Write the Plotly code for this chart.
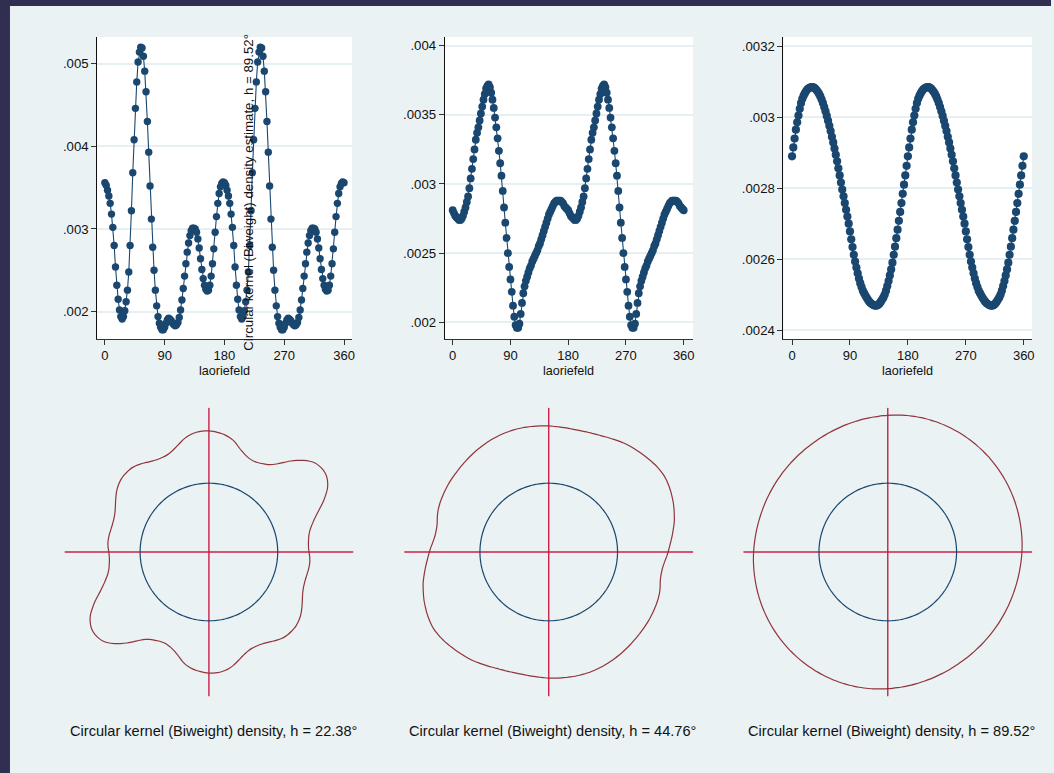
import numpy as np
import plotly.graph_objects as go

W, H = 1054, 773

# ---------------- data (density in units of 1e-5) ----------------
angles = list(range(0, 362, 2))  # evaluation angles, degrees (laoriefeld)

dens_h22_half = [
    356, 353, 347, 340, 331, 318, 302, 280, 254, 232,
    215, 202, 194, 191, 194, 201, 212, 226, 248, 280,
    322, 368, 408, 446, 478, 502, 514, 520, 519, 509,
    491, 466, 430, 393, 352, 312, 278, 250, 226, 207,
    194, 186, 181, 178, 178, 181, 186, 190, 192, 191,
    189, 186, 184, 183, 184, 187, 193, 202, 214, 228,
    243, 258, 272, 283, 292, 298, 301, 301, 300, 296,
    288, 277, 264, 251, 240, 232, 227, 225, 226, 232,
    243, 258, 276, 296, 315, 331, 343, 351, 355, 357]
dens_h22_second = [
    356, 353, 347, 340, 331, 318, 302, 280, 254, 232,
    215, 202, 194, 191, 194, 201, 212, 226, 248, 280,
    322, 368, 408, 446, 478, 502, 514, 520, 519, 509,
    491, 466, 430, 393, 352, 312, 278, 250, 226, 207,
    194, 186, 181, 178, 178, 181, 186, 190, 192, 191,
    189, 186, 184, 183, 184, 187, 193, 202, 214, 228,
    243, 258, 272, 283, 292, 298, 301, 301, 300, 296,
    288, 277, 264, 251, 240, 232, 227, 225, 226, 232,
    243, 258, 276, 296, 315, 331, 343, 351, 355, 357, 356]

dens_h45_half = [
    281, 279, 277, 276, 275, 274, 274, 275, 277, 280,
    283, 287, 291, 297, 304, 311, 318, 325, 332, 337,
    341, 346, 351, 356, 361, 365, 369, 371, 372, 370,
    366, 361, 355, 348, 341, 333, 324, 315, 306, 295,
    283, 272, 261, 250, 240, 231, 222, 212, 204, 198,
    196, 196, 199, 206, 214, 221, 226, 230, 233, 236,
    239, 241, 244, 246, 248, 250, 252, 255, 257, 260,
    263, 266, 269, 272, 275, 278, 280, 282, 284, 286,
    287, 288, 288, 288, 288, 287, 286, 284, 283, 282]
dens_h45_second = [
    281, 279, 277, 276, 275, 274, 274, 275, 277, 280,
    283, 287, 291, 297, 304, 311, 318, 325, 332, 337,
    341, 346, 351, 356, 361, 365, 369, 371, 372, 370,
    366, 361, 355, 348, 341, 333, 324, 315, 306, 295,
    283, 272, 261, 250, 240, 231, 222, 212, 204, 198,
    196, 196, 199, 206, 214, 221, 226, 230, 233, 236,
    239, 241, 244, 246, 248, 250, 252, 255, 257, 260,
    263, 266, 269, 272, 275, 278, 280, 282, 284, 286,
    287, 288, 288, 288, 288, 287, 286, 284, 283, 282, 281]

dens_h90_half = [
    289, 291.5, 294, 296.5, 298.6, 300.5, 302.4, 304, 305.2, 306.1,
    306.8, 307.4, 307.9, 308.2, 308.4, 308.5, 308.5, 308.4, 308.1, 307.7,
    307.2, 306.6, 305.9, 305.0, 304.0, 302.9, 301.7, 300.4, 299.0, 297.6,
    296.1, 294.5, 292.9, 291.2, 289.4, 287.6, 285.6, 283.6, 281.6, 279.6,
    277.7, 275.8, 273.9, 272.0, 270.0, 267.8, 265.6, 263.4, 261.2, 259.3,
    257.6, 256.0, 254.5, 253.2, 252.1, 251.1, 250.4, 249.7, 249.1, 248.5,
    248.0, 247.6, 247.3, 247.1, 246.9, 246.9, 246.9, 247.1, 247.5, 248.0,
    248.6, 249.2, 250.0, 251.1, 252.4, 253.8, 255.4, 257.1, 259.0, 261.2,
    263.5, 265.9, 268.3, 270.8, 273.3, 275.8, 278.4, 281.0, 283.6, 286.3]
dens_h90_second = [
    289, 291.5, 294, 296.5, 298.6, 300.5, 302.4, 304, 305.2, 306.1,
    306.8, 307.4, 307.9, 308.2, 308.4, 308.5, 308.5, 308.4, 308.1, 307.7,
    307.2, 306.6, 305.9, 305.0, 304.0, 302.9, 301.7, 300.4, 299.0, 297.6,
    296.1, 294.5, 292.9, 291.2, 289.4, 287.6, 285.6, 283.6, 281.6, 279.6,
    277.7, 275.8, 273.9, 272.0, 270.0, 267.8, 265.6, 263.4, 261.2, 259.3,
    257.6, 256.0, 254.5, 253.2, 252.1, 251.1, 250.4, 249.7, 249.1, 248.5,
    248.0, 247.6, 247.3, 247.1, 246.9, 246.9, 246.9, 247.1, 247.5, 248.0,
    248.6, 249.2, 250.0, 251.1, 252.4, 253.8, 255.4, 257.1, 259.0, 261.2,
    263.5, 265.9, 268.3, 270.8, 273.3, 275.8, 278.4, 281.0, 283.6, 286.3, 289]

captions = ["Circular kernel (Biweight) density, h = 22.38\u00b0",
            "Circular kernel (Biweight) density, h = 44.76\u00b0",
            "Circular kernel (Biweight) density, h = 89.52\u00b0"]
stray_ytitle = "Circular kernel (Biweight) density estimate, h = 89.52\u00b0"
xtitle = "laoriefeld"

x_tickvals = [0, 90, 180, 270, 360]
y_tickvals = [[0.002, 0.003, 0.004, 0.005],
              [0.002, 0.0025, 0.003, 0.0035, 0.004],
              [0.0024, 0.0026, 0.0028, 0.003, 0.0032]]
y_ticktext = [[".002", ".003", ".004", ".005"],
              [".002", ".0025", ".003", ".0035", ".004"],
              [".0024", ".0026", ".0028", ".003", ".0032"]]

# ---------------- styling / layout constants ----------------
NAVY = "#1a476f"
MAROON = "#90353b"
CROSS = "#cc1f48"
BG = "#eaf2f3"
FRAME = "#302e51"
FONT = "Liberation Sans, Arial, sans-serif"

densities = [np.array(dens_h22_half + dens_h22_second) * 1e-5,
             np.array(dens_h45_half + dens_h45_second) * 1e-5,
             np.array(dens_h90_half + dens_h90_second) * 1e-5]

# plot areas in pixels (left, right, top, bottom)
top_boxes = [(97.5, 353.0, 37.0, 339.0),
             (446.0, 695.0, 37.0, 339.0),
             (785.7, 1035.0, 37.0, 339.0)]
x_ranges = [[-11.5, 372.0], [-12.4, 374.5], [-13.3, 372.9]]
y_ranges = [[0.001669, 0.005323], [0.001879, 0.004063], [0.0023746, 0.0032265]]
marker_sizes = [7.4, 7.8, 8.2]

polar_centers = [209.5, 550.3, 890.3]
polar_cy = 552.0
CROSS_R = 145.0
REF_R = 69.0
polar_base = [78.7, 88.5, 102.4]
polar_gain = [11990.0, 13500.0, 12000.0]


def fx(px):
    return px / W


def fy(py):
    return 1 - py / H


fig = go.Figure()
layout = dict(
    width=W, height=H, margin=dict(l=0, r=0, t=0, b=0),
    paper_bgcolor=BG, plot_bgcolor="white", showlegend=False,
    font=dict(family=FONT, color="#111111"),
)

annotations = []
for i in range(3):
    ax = "" if i == 0 else str(i + 1)
    l, r, t, b = top_boxes[i]
    fig.add_trace(go.Scatter(
        x=angles, y=densities[i], mode="lines+markers",
        line=dict(color=NAVY, width=1.1),
        marker=dict(color=NAVY, size=marker_sizes[i], line=dict(width=0)),
        xaxis="x" + ax, yaxis="y" + ax, cliponaxis=False, hoverinfo="skip"))
    layout["xaxis" + ax] = dict(
        domain=[fx(l), fx(r)], range=x_ranges[i], anchor="y" + ax,
        tickvals=x_tickvals, ticks="outside", ticklen=5, tickwidth=1,
        ticklabelstandoff=-1,
        tickcolor="#333333", showline=True, linecolor="#333333", linewidth=1,
        showgrid=False, zeroline=False, tickfont=dict(size=13.0, family=FONT, color="#111111"))
    layout["yaxis" + ax] = dict(
        domain=[fy(b), fy(t)], range=y_ranges[i], anchor="x" + ax,
        tickvals=y_tickvals[i], ticktext=y_ticktext[i], ticks="outside",
        ticklen=5, tickwidth=1, tickcolor="#333333", showline=True,
        linecolor="#111111", linewidth=1, showgrid=True, gridcolor="#e6eff1",
        gridwidth=1.6, zeroline=False, tickfont=dict(size=13.2, family=FONT, color="#111111"))
    annotations.append(dict(
        text=xtitle, x=fx((l + r) / 2), y=fy(371), xref="paper", yref="paper",
        showarrow=False, xanchor="center", yanchor="middle",
        font=dict(size=12.6, family=FONT, color="#111111")))

    # bottom polar panel
    pid = "polar" if i == 0 else "polar" + str(i + 1)
    cx = polar_centers[i]
    layout[pid] = dict(
        domain=dict(x=[fx(cx - CROSS_R), fx(cx + CROSS_R)],
                    y=[fy(polar_cy + CROSS_R), fy(polar_cy - CROSS_R)]),
        bgcolor="rgba(0,0,0,0)",
        radialaxis=dict(visible=False, range=[0, CROSS_R], showgrid=False),
        angularaxis=dict(visible=False, direction="clockwise", rotation=90,
                         showgrid=False),
    )
    fig.add_trace(go.Scatterpolar(
        r=[CROSS_R, 0, CROSS_R], theta=[0, 0, 180], mode="lines",
        line=dict(color=CROSS, width=1.4), subplot=pid, hoverinfo="skip"))
    fig.add_trace(go.Scatterpolar(
        r=[CROSS_R, 0, CROSS_R], theta=[90, 90, 270], mode="lines",
        line=dict(color=CROSS, width=1.4), subplot=pid, hoverinfo="skip"))
    fig.add_trace(go.Scatterpolar(
        r=[REF_R] * len(angles), theta=angles, mode="lines",
        line=dict(color=NAVY, width=1.2), subplot=pid, hoverinfo="skip"))
    fig.add_trace(go.Scatterpolar(
        r=polar_base[i] + polar_gain[i] * densities[i], theta=angles,
        mode="lines", line=dict(color=MAROON, width=1.2, shape="spline"),
        subplot=pid, hoverinfo="skip"))
    annotations.append(dict(
        text=captions[i], x=fx([214, 554, 894][i]), y=fy(731), xref="paper",
        yref="paper", showarrow=False, xanchor="center", yanchor="middle",
        font=dict(size=14.6, family=FONT, color="#111111")))

annotations.append(dict(
    text=stray_ytitle, x=fx(249.5), y=fy(192), xref="paper", yref="paper",
    showarrow=False, textangle=-90, xanchor="center", yanchor="middle",
    font=dict(size=13.3, family=FONT, color="#111111")))

layout["annotations"] = annotations
layout["shapes"] = [
    dict(type="rect", xref="paper", yref="paper", x0=0, x1=1, y0=fy(6), y1=1,
         fillcolor=FRAME, line=dict(width=0), layer="above"),
    dict(type="rect", xref="paper", yref="paper", x0=0, x1=fx(10), y0=0, y1=1,
         fillcolor=FRAME, line=dict(width=0), layer="above"),
]
fig.update_layout(**layout)
fig.write_html("out.html")
